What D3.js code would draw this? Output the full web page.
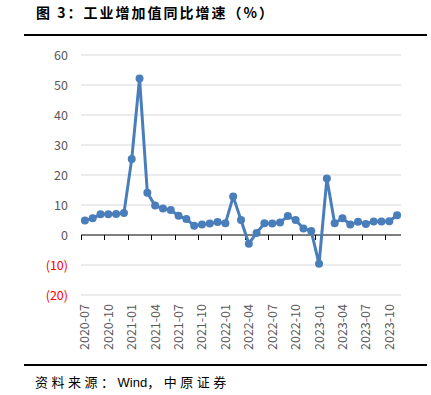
<html><head>
<meta charset="utf-8">
<script src="https://d3js.org/d3.v7.min.js"></script>
<style>
  body { margin: 0; background: #fff; }
  text { font-family: "Noto Sans CJK SC", "Liberation Sans", sans-serif; }
</style>
</head>
<body>
<div id="chart"></div>
<script>
    const svgWidth = 431;
    const svgHeight = 395;

    // monthly data, 2020-07 .. 2023-11
    const months = [
        "2020-07","2020-08","2020-09","2020-10","2020-11","2020-12",
        "2021-01","2021-02","2021-03","2021-04","2021-05","2021-06",
        "2021-07","2021-08","2021-09","2021-10","2021-11","2021-12",
        "2022-01","2022-02","2022-03","2022-04","2022-05","2022-06",
        "2022-07","2022-08","2022-09","2022-10","2022-11","2022-12",
        "2023-01","2023-02","2023-03","2023-04","2023-05","2023-06",
        "2023-07","2023-08","2023-09","2023-10","2023-11"];
    const growth = [
        4.8, 5.6, 6.9, 6.9, 7.0, 7.3,
        25.3, 52.2, 14.1, 9.8, 8.8, 8.3,
        6.4, 5.3, 3.1, 3.5, 3.8, 4.3,
        3.9, 12.8, 5.0, -2.9, 0.7, 3.9,
        3.8, 4.2, 6.3, 5.0, 2.2, 1.3,
        -9.6, 18.8, 3.9, 5.6, 3.5, 4.4,
        3.7, 4.5, 4.5, 4.6, 6.6];
    const yTicks = [-20, -10, 0, 10, 20, 30, 40, 50, 60];

    const plotLeft = 81, plotRight = 401;
    const yTop = 55, yBottom = 295;

    const svg = d3.select("#chart").append("svg")
        .attr("width", svgWidth)
        .attr("height", svgHeight);

    // title + rules
    svg.append("text")
        .attr("x", 36).attr("y", 18)
        .attr("font-size", 14).attr("font-weight", "bold")
        .attr("letter-spacing", 2)
        .attr("fill", "#000")
        .text("图 3：工业增加值同比增速（%）");
    svg.append("line")
        .attr("x1", 24).attr("x2", 427).attr("y1", 35).attr("y2", 35)
        .attr("stroke", "#000").attr("stroke-width", 2);
    svg.append("line")
        .attr("x1", 24).attr("x2", 427).attr("y1", 365).attr("y2", 365)
        .attr("stroke", "#000").attr("stroke-width", 2);
    const src = svg.append("text")
        .attr("x", 35).attr("y", 387)
        .attr("font-size", 13).attr("fill", "#000");
    src.append("tspan").attr("letter-spacing", 3.5).text("资料来源：");
    src.append("tspan").attr("font-family", "Liberation Sans, sans-serif").text("Wind");
    src.append("tspan").attr("letter-spacing", 3.5).text("，中原证券");

    const x = d3.scaleBand().domain(months).range([plotLeft, plotRight]);
    const y = d3.scaleLinear().domain([-20, 60]).range([yBottom, yTop]);

    // gridlines
    svg.append("g").selectAll("line")
        .data(yTicks.filter(d => d !== 0))
        .join("line")
        .attr("x1", plotLeft).attr("x2", plotRight)
        .attr("y1", d => y(d)).attr("y2", d => y(d))
        .attr("stroke", "#d9d9d9").attr("stroke-width", 1);

    // y labels
    svg.append("g").selectAll("text")
        .data(yTicks)
        .join("text")
        .attr("x", 68)
        .attr("y", d => y(d) + 4.5)
        .attr("text-anchor", "end")
        .attr("font-family", "Liberation Sans, sans-serif")
        .attr("font-size", 12.5)
        .attr("fill", d => d < 0 ? "#ff0000" : "#595959")
        .text(d => d < 0 ? "(" + (-d) + ")" : d);

    // zero axis with ticks every 3 months
    const axisG = svg.append("g");
    axisG.append("line")
        .attr("x1", plotLeft).attr("x2", plotRight)
        .attr("y1", y(0)).attr("y2", y(0))
        .attr("stroke", "#000").attr("stroke-width", 1);
    axisG.selectAll("line.tick")
        .data(months.filter((d, i) => i % 3 === 0))
        .join("line")
        .attr("class", "tick")
        .attr("x1", d => Math.round(x(d)) + 0.5).attr("x2", d => Math.round(x(d)) + 0.5)
        .attr("y1", y(0)).attr("y2", y(0) + 5)
        .attr("stroke", "#000").attr("stroke-width", 1);

    // x labels (rotated)
    svg.append("g").selectAll("text")
        .data(months.filter((d, i) => i % 3 === 0))
        .join("text")
        .attr("transform", d => "translate(" + (x(d) + x.bandwidth() / 2 + 4.5) + "," + 304 + ") rotate(-90)")
        .attr("text-anchor", "end")
        .attr("font-family", "Liberation Sans, sans-serif")
        .attr("font-size", 12.5)
        .attr("fill", "#595959")
        .text(d => d);

    // line + markers
    const cx = (d, i) => x(months[i]) + x.bandwidth() / 2;
    svg.append("path")
        .datum(growth)
        .attr("fill", "none")
        .attr("stroke", "#4a7ebb")
        .attr("stroke-width", 3)
        .attr("stroke-linejoin", "round")
        .attr("d", d3.line().x(cx).y(d => y(d)));

    svg.append("g").selectAll("circle")
        .data(growth)
        .join("circle")
        .attr("cx", cx)
        .attr("cy", d => y(d))
        .attr("r", 4)
        .attr("fill", "#4a7ebb");
</script>
</body></html>
